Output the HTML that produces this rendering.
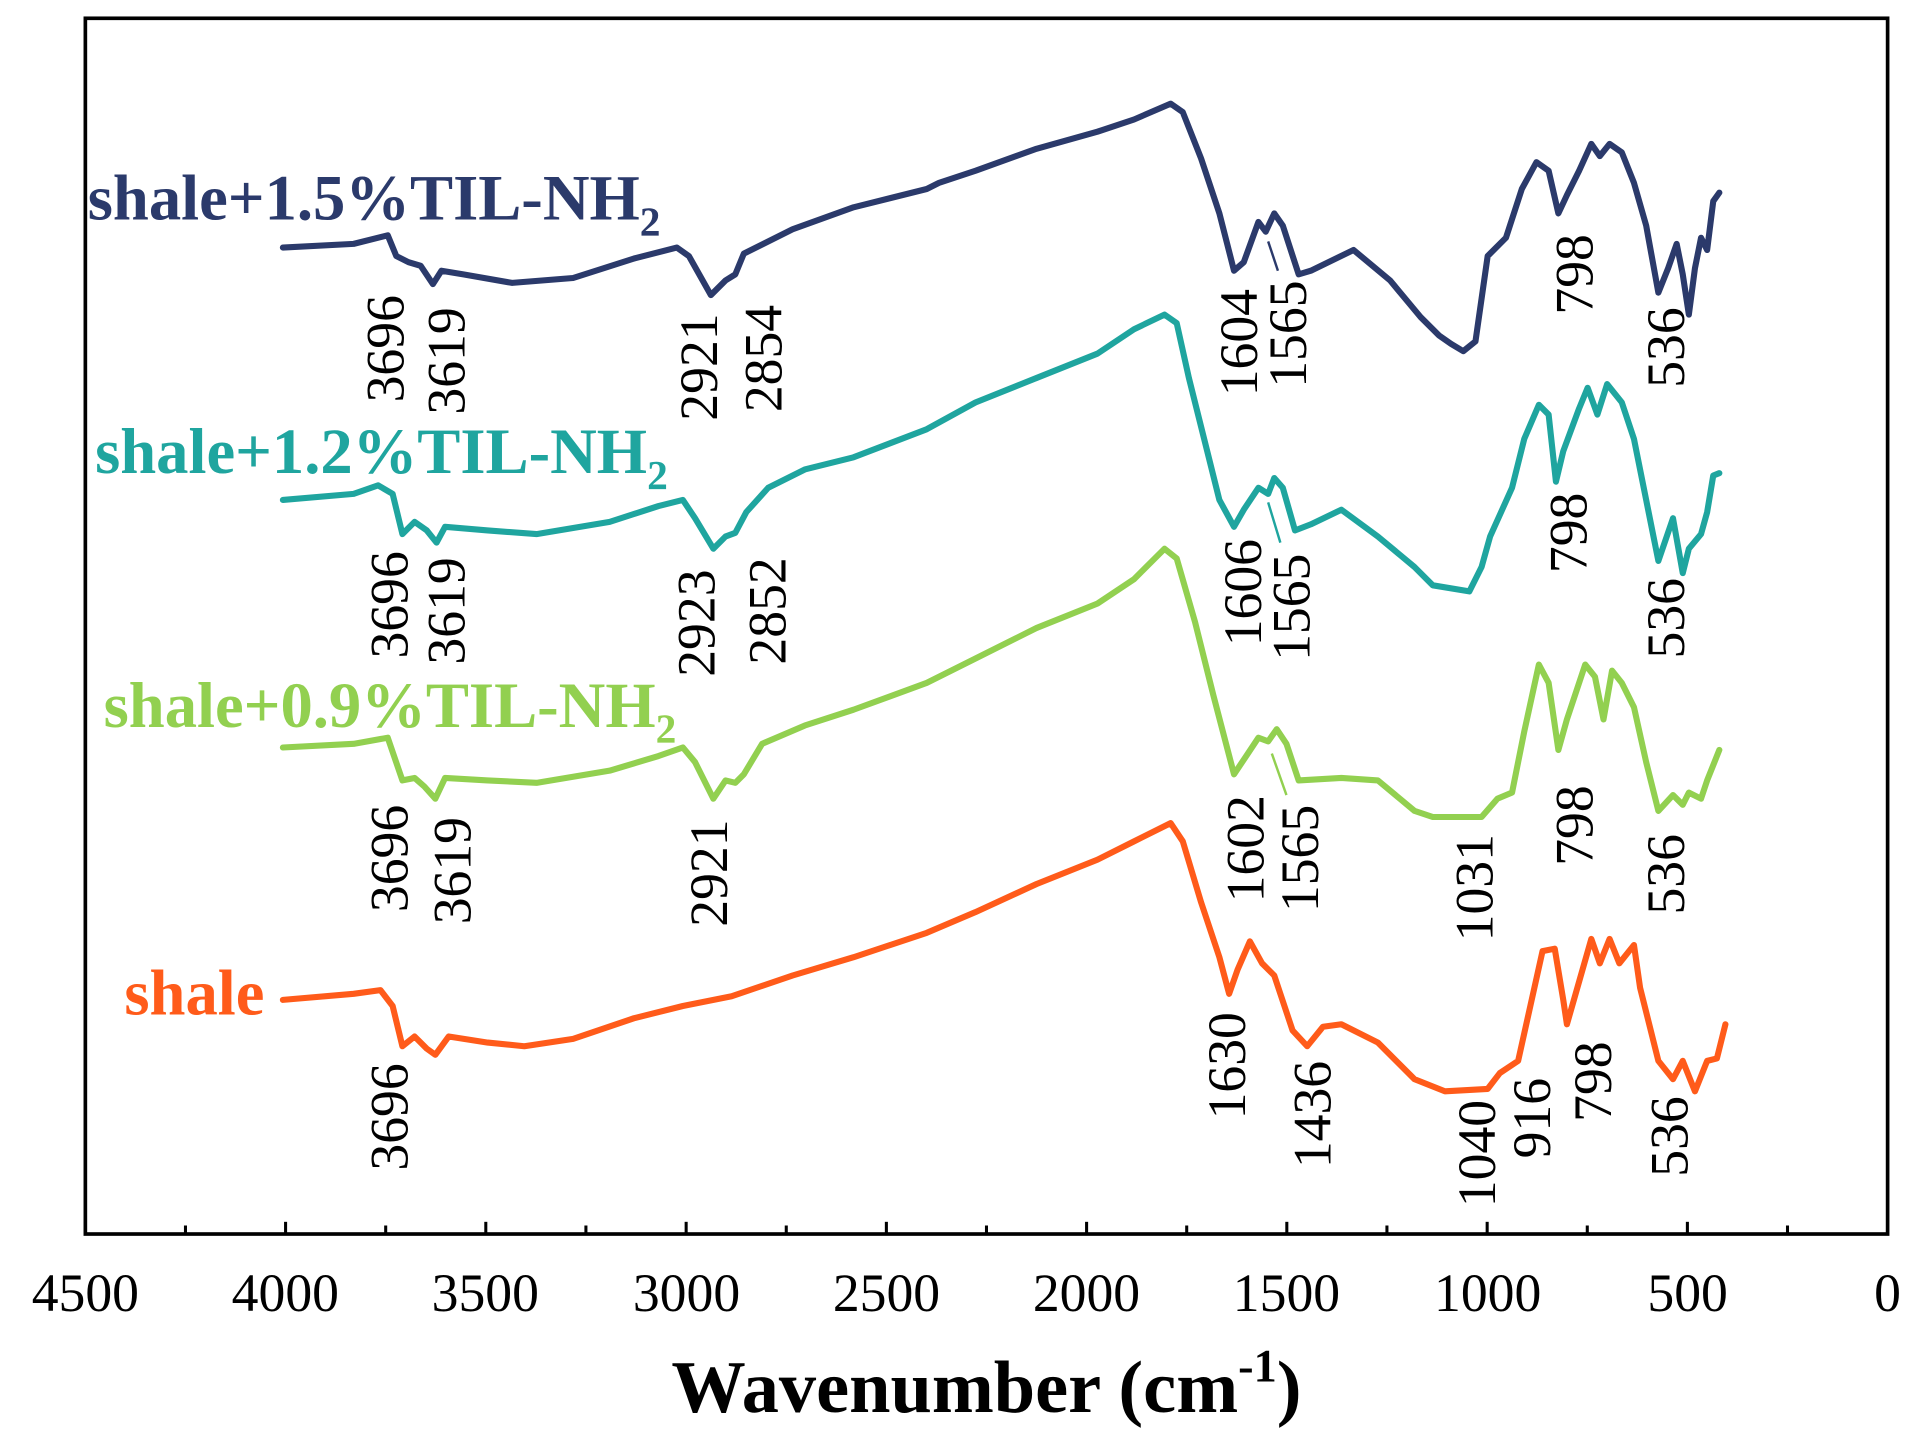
<!DOCTYPE html>
<html><head><meta charset="utf-8"><style>html,body{margin:0;padding:0;background:#fff}svg{display:block}</style></head>
<body>
<svg width="1912" height="1444" viewBox="0 0 1568 1184.2" preserveAspectRatio="none" xmlns="http://www.w3.org/2000/svg" font-family="'Liberation Serif',serif">
<rect x="70" y="15" width="1478" height="997" fill="none" stroke="#000" stroke-width="3"/>
<g stroke="#000" stroke-width="2.5">
<line x1="70" y1="1012" x2="70" y2="1002"/><line x1="234.2" y1="1012" x2="234.2" y2="1002"/><line x1="398.4" y1="1012" x2="398.4" y2="1002"/><line x1="562.7" y1="1012" x2="562.7" y2="1002"/><line x1="726.9" y1="1012" x2="726.9" y2="1002"/><line x1="891.1" y1="1012" x2="891.1" y2="1002"/><line x1="1055.3" y1="1012" x2="1055.3" y2="1002"/><line x1="1219.6" y1="1012" x2="1219.6" y2="1002"/><line x1="1383.8" y1="1012" x2="1383.8" y2="1002"/>
<line x1="152.1" y1="1012" x2="152.1" y2="1005"/><line x1="316.3" y1="1012" x2="316.3" y2="1005"/><line x1="480.5" y1="1012" x2="480.5" y2="1005"/><line x1="644.8" y1="1012" x2="644.8" y2="1005"/><line x1="809" y1="1012" x2="809" y2="1005"/><line x1="973.2" y1="1012" x2="973.2" y2="1005"/><line x1="1137.4" y1="1012" x2="1137.4" y2="1005"/><line x1="1301.7" y1="1012" x2="1301.7" y2="1005"/><line x1="1465.9" y1="1012" x2="1465.9" y2="1005"/>
</g>
<g font-size="44" text-anchor="middle" fill="#000">
<text x="70" y="1075">4500</text><text x="234" y="1075">4000</text><text x="398" y="1075">3500</text><text x="563" y="1075">3000</text><text x="727" y="1075">2500</text><text x="891" y="1075">2000</text><text x="1055" y="1075">1500</text><text x="1220" y="1075">1000</text><text x="1384" y="1075">500</text><text x="1548" y="1075">0</text>
</g>
<text x="809" y="1158" font-size="61" font-weight="bold" text-anchor="middle">Wavenumber (cm<tspan font-size="38" dy="-25">-1</tspan><tspan dy="25">)</tspan></text>
<g fill="none" stroke-width="5" stroke-linejoin="round" stroke-linecap="round">
<polyline stroke="#2b3a6b" points="232,203 290,200 318,193 325,210 335,215 345,218 355,233 362,222 380,225 420,232 470,228 520,212 555,203 565,210 583,242 595,230 603,225 610,208 650,188 700,170 760,155 770,150 800,140 850,122 900,108 930,98 960,85 970,92 985,130 1000,175 1012,222 1020,215 1032,182 1038,190 1045,175 1052,185 1065,225 1075,222 1110,205 1140,230 1165,260 1180,275 1190,282 1200,288 1210,280 1220,210 1235,195 1248,155 1260,133 1270,140 1278,175 1285,160 1295,140 1305,118 1312,128 1320,118 1330,125 1340,150 1350,185 1360,240 1368,220 1375,200 1380,225 1385,258 1390,220 1395,195 1400,205 1405,165 1410,158"/>
<polyline stroke="#1fa59f" points="232,410 290,405 310,398 322,405 330,438 340,428 350,435 358,445 365,432 400,435 440,438 500,428 540,415 560,410 570,425 585,450 595,440 603,437 612,420 630,400 660,385 700,375 760,352 800,330 850,310 900,290 930,270 955,258 965,265 975,310 990,370 1000,410 1012,432 1020,418 1032,400 1040,405 1045,392 1052,400 1062,435 1075,430 1100,418 1130,440 1160,465 1175,480 1205,485 1215,465 1222,440 1240,400 1250,360 1262,332 1270,340 1276,395 1282,370 1295,335 1302,318 1310,340 1318,315 1330,330 1340,360 1350,410 1360,460 1372,425 1380,470 1385,450 1395,438 1400,420 1405,390 1410,388"/>
<polyline stroke="#92d050" points="232,613 290,610 318,605 330,640 340,638 348,645 357,655 365,638 400,640 440,642 500,632 540,620 560,613 570,625 585,655 595,640 603,642 610,635 625,610 660,595 700,582 760,560 800,540 850,515 900,495 930,475 955,450 965,458 980,510 995,570 1012,635 1022,620 1032,605 1040,608 1047,598 1055,610 1065,640 1100,638 1130,640 1160,665 1175,670 1215,670 1228,655 1240,650 1250,600 1262,545 1270,560 1278,615 1285,590 1300,545 1308,555 1315,590 1322,550 1330,560 1340,580 1350,625 1360,665 1372,652 1380,660 1385,650 1395,655 1400,640 1410,615"/>
<polyline stroke="#ff5b1a" points="232,820 290,815 312,812 322,825 330,858 340,850 350,860 357,865 368,850 400,855 430,858 470,852 520,835 560,825 600,817 650,800 700,785 760,765 800,748 850,725 900,705 930,690 960,675 970,690 985,740 1000,785 1008,815 1015,795 1025,772 1035,790 1045,800 1050,815 1060,845 1072,858 1085,842 1100,840 1130,855 1160,885 1185,895 1220,893 1230,880 1245,870 1255,825 1265,780 1275,778 1282,820 1285,840 1295,805 1305,770 1312,790 1320,770 1328,790 1340,775 1345,810 1360,870 1372,885 1380,870 1390,895 1400,870 1408,868 1415,840"/>
</g>
<g stroke-width="2" fill="none"><line x1="1040" y1="198" x2="1048" y2="222" stroke="#2b3a6b"/><line x1="1040" y1="412" x2="1050" y2="445" stroke="#1fa59f"/><line x1="1043" y1="618" x2="1055" y2="652" stroke="#92d050"/></g>
<g font-size="44" fill="#000">
<text transform="translate(331,330) rotate(-90)">3696</text><text transform="translate(381,340) rotate(-90)">3619</text><text transform="translate(588,345) rotate(-90)">2921</text><text transform="translate(641,338) rotate(-90)">2854</text><text transform="translate(1031,325) rotate(-90)">1604</text><text transform="translate(1071,318) rotate(-90)">1565</text><text transform="translate(1306,258) rotate(-90)">798</text><text transform="translate(1381,318) rotate(-90)">536</text>
<text transform="translate(334,540) rotate(-90)">3696</text><text transform="translate(381,545) rotate(-90)">3619</text><text transform="translate(586,555) rotate(-90)">2923</text><text transform="translate(644,545) rotate(-90)">2852</text><text transform="translate(1034,530) rotate(-90)">1606</text><text transform="translate(1074,542) rotate(-90)">1565</text><text transform="translate(1301,470) rotate(-90)">798</text><text transform="translate(1381,540) rotate(-90)">536</text>
<text transform="translate(334,748) rotate(-90)">3696</text><text transform="translate(386,758) rotate(-90)">3619</text><text transform="translate(596,760) rotate(-90)">2921</text><text transform="translate(1036,740) rotate(-90)">1602</text><text transform="translate(1081,748) rotate(-90)">1565</text><text transform="translate(1224,772) rotate(-90)">1031</text><text transform="translate(1306,710) rotate(-90)">798</text><text transform="translate(1381,750) rotate(-90)">536</text>
<text transform="translate(334,960) rotate(-90)">3696</text><text transform="translate(1021,918) rotate(-90)">1630</text><text transform="translate(1091,958) rotate(-90)">1436</text><text transform="translate(1226,990) rotate(-90)">1040</text><text transform="translate(1271,950) rotate(-90)">916</text><text transform="translate(1321,920) rotate(-90)">798</text><text transform="translate(1384,965) rotate(-90)">536</text>
</g>
<g font-size="53" font-weight="bold">
<text x="72" y="180" fill="#2b3a6b">shale+1.5%TIL-NH<tspan font-size="34" dy="13">2</tspan></text>
<text x="78" y="388" fill="#1fa59f">shale+1.2%TIL-NH<tspan font-size="34" dy="13">2</tspan></text>
<text x="85" y="596" fill="#92d050">shale+0.9%TIL-NH<tspan font-size="34" dy="13">2</tspan></text>
<text x="102" y="832" fill="#ff5b1a">shale</text>
</g>
</svg>
</body></html>
